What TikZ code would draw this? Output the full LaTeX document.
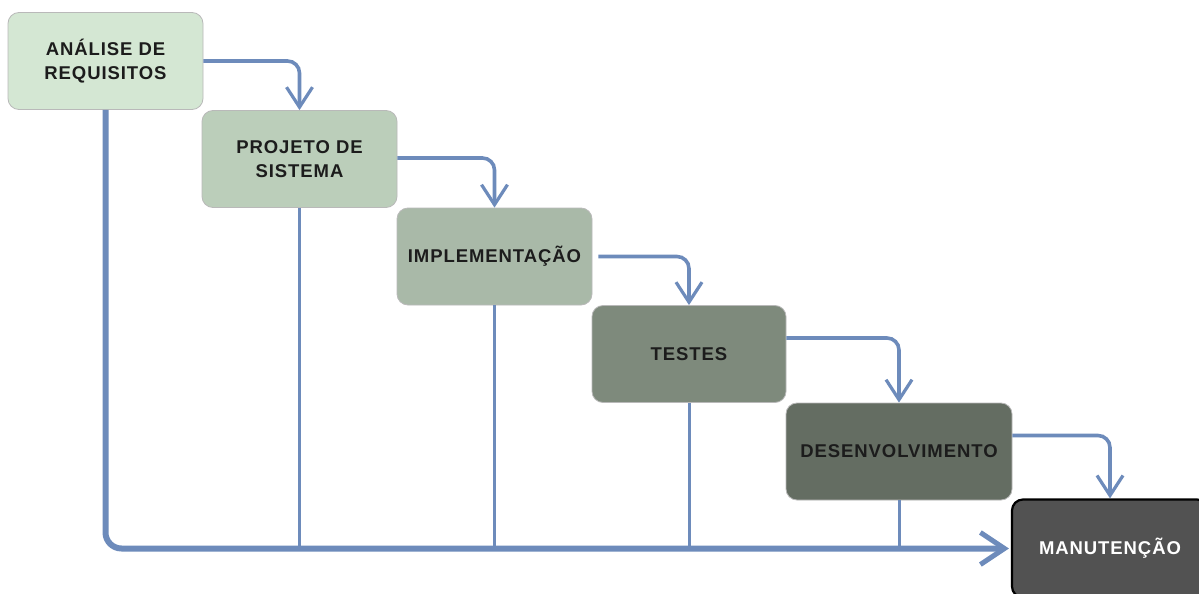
\documentclass[tikz,border=0pt]{standalone}
\usepackage{fontspec}
\setmainfont{Liberation Sans}
\usetikzlibrary{arrows.meta,positioning}

\definecolor{flow}{HTML}{6D8BBB}
\definecolor{phaseA}{HTML}{D4E7D3}
\definecolor{phaseB}{HTML}{BBCEBA}
\definecolor{phaseC}{HTML}{A9B9A8}
\definecolor{phaseD}{HTML}{7E8A7C}
\definecolor{phaseE}{HTML}{646D62}
\definecolor{phaseF}{HTML}{525252}
\definecolor{ink}{HTML}{1C1C1C}

\newfontfamily\labelfont[LetterSpace=5]{Liberation Sans}

\tikzset{
  phase/.style={rounded corners=11pt, draw=gray!55, line width=0.8pt,
    minimum height=97pt, inner sep=0pt, align=center, text=ink,
    font=\labelfont\bfseries\fontsize{18.5}{24}\selectfont},
  final/.style={phase, draw=black, line width=2.2pt, text=white},
  handoff/.style={draw=flow, line width=3.6pt, rounded corners=12pt,
    -{Straight Barb[length=20pt,width=26pt,line width=3.2pt]}},
  drop/.style={draw=flow, line width=3pt},
  bus/.style={draw=flow, line width=6pt, rounded corners=16pt,
    -{Straight Barb[length=24pt,width=32pt,line width=5pt]}}
}

\begin{document}
\begin{tikzpicture}[x=1pt,y=-1pt]
  \clip (0,0) rectangle (1199,594);
  \fill[white] (0,0) rectangle (1199,594);

  % phases of the waterfall model
  \node[phase, fill=phaseA, minimum width=195pt] (b1) at (105.5,61) {ANÁLISE DE\\REQUISITOS};
  \node[phase, fill=phaseB, minimum width=195pt] (b2) at (299.5,159) {PROJETO DE\\SISTEMA};
  \node[phase, fill=phaseC, minimum width=195pt] (b3) at (494.5,256.5) {IMPLEMENTAÇÃO};
  \node[phase, fill=phaseD, minimum width=194pt] (b4) at (689,354) {TESTES};
  \node[phase, fill=phaseE, minimum width=226pt] (b5) at (899,451.5) {DESENVOLVIMENTO};
  \node[final, fill=phaseF, minimum width=196pt, minimum height=98pt] (b6) at (1110,548.5) {MANUTENÇÃO};

  % exit points of the step arrows
  \coordinate (o1) at (b1.east);
  \coordinate (o2) at ([yshift=1pt]b2.east);
  \coordinate (o3) at ([xshift=6pt]b3.east);
  \coordinate (o4) at ([yshift=16pt]b4.east);
  \coordinate (o5) at ([yshift=16pt]b5.east);

  % step arrows between consecutive phases
  \draw[handoff] (o1) -| (b2.north);
  \draw[handoff] (o2) -| (b3.north);
  \draw[handoff] (o3) -| (b4.north);
  \draw[handoff] (o4) -| (b5.north);
  \draw[handoff] (o5) -| (b6.north);

  % feedback lines into the maintenance bus
  \draw[drop] (b2.south) -- (b2.south |- b6.west);
  \draw[drop] (b3.south) -- (b3.south |- b6.west);
  \draw[drop] (b4.south) -- (b4.south |- b6.west);
  \draw[drop] (b5.south) -- (b5.south |- b6.west);

  % main bus from requirements to maintenance
  \draw[bus] (b1.south) |- ([xshift=-2pt]b6.west);
\end{tikzpicture}
\end{document}
